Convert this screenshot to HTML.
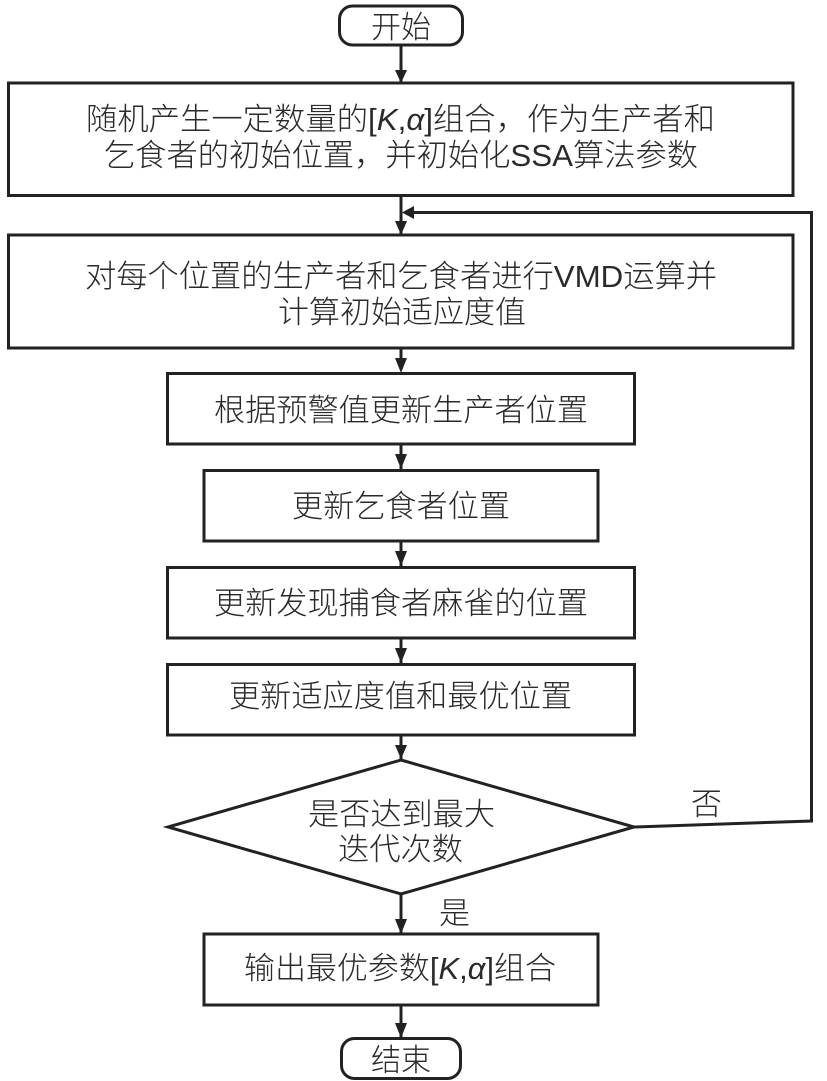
<!DOCTYPE html>
<html lang="zh">
<head>
<meta charset="utf-8">
<title>流程图</title>
<style>
html,body{margin:0;padding:0;background:#fff;}
svg{display:block;}
text{font-family:"Liberation Sans","Noto Sans CJK SC",sans-serif;font-size:31px;font-weight:300;fill:#2a2a2a;}
.i{font-style:italic;}
rect,polygon.b{fill:#fff;stroke:#222;stroke-width:3;}
.l{fill:none;stroke:#222;stroke-width:3;}
.a{fill:#222;stroke:none;}
</style>
</head>
<body>
<svg width="827" height="1081" viewBox="0 0 827 1081" xmlns="http://www.w3.org/2000/svg">
<path class="l" d="M401 45V125"/>
<path class="l" d="M401 196V368"/>
<path class="l" d="M401 444V470M401 541V567M401 638V664M401 735V760M401 894V934M401 1005V1040"/>
<path class="l" d="M634 827L811.500 821V212.500H410"/>
<polygon class="a" points="395,70 407,70 401,83"/>
<polygon class="a" points="395,358 407,358 401,373"/>
<polygon class="a" points="395,221 407,221 401,235"/>
<polygon class="a" points="414,206 414,219 402,212.500"/>
<polygon class="a" points="395,454 407,454 401,469"/>
<polygon class="a" points="395,551 407,551 401,566"/>
<polygon class="a" points="395,648 407,648 401,663"/>
<polygon class="a" points="395,745 407,745 401,759"/>
<polygon class="a" points="395,919 407,919 401,934"/>
<polygon class="a" points="395,1023 407,1023 401,1038"/>
<rect x="339.500" y="6" width="123" height="39" rx="13"/>
<rect x="8.500" y="83" width="784.500" height="112.500"/>
<rect x="8.500" y="235" width="784.500" height="113"/>
<rect x="167.500" y="373.500" width="467" height="70.500"/>
<rect x="204" y="470.500" width="394" height="70.500"/>
<rect x="167.500" y="567.500" width="467" height="70.500"/>
<rect x="167.500" y="664.500" width="467" height="70.500"/>
<polygon class="b" points="401,760 634,827 401,894 168,827" style="stroke-linejoin:miter"/>
<rect x="204" y="934" width="394" height="71"/>
<rect x="341.500" y="1038.500" width="119" height="40" rx="13"/>
<text x="371" y="38" textLength="60" lengthAdjust="spacingAndGlyphs">开始</text>
<text x="86" y="130" textLength="629" lengthAdjust="spacingAndGlyphs">随机产生一定数量的[<tspan class="i">K</tspan>,<tspan class="i">α</tspan>]组合，作为生产者和</text>
<text x="104" y="166" textLength="594" lengthAdjust="spacingAndGlyphs">乞食者的初始位置，并初始化SSA算法参数</text>
<text x="85" y="287" textLength="632" lengthAdjust="spacingAndGlyphs">对每个位置的生产者和乞食者进行VMD运算并</text>
<text x="278" y="323" textLength="248" lengthAdjust="spacingAndGlyphs">计算初始适应度值</text>
<text x="214" y="421" textLength="374" lengthAdjust="spacingAndGlyphs">根据预警值更新生产者位置</text>
<text x="292" y="517" textLength="218" lengthAdjust="spacingAndGlyphs">更新乞食者位置</text>
<text x="214" y="614" textLength="374" lengthAdjust="spacingAndGlyphs">更新发现捕食者麻雀的位置</text>
<text x="229" y="707" textLength="343" lengthAdjust="spacingAndGlyphs">更新适应度值和最优位置</text>
<text x="308" y="825" textLength="187" lengthAdjust="spacingAndGlyphs">是否达到最大</text>
<text x="338" y="860" textLength="125" lengthAdjust="spacingAndGlyphs">迭代次数</text>
<text x="691" y="815" textLength="31" lengthAdjust="spacingAndGlyphs">否</text>
<text x="439" y="924" textLength="31" lengthAdjust="spacingAndGlyphs">是</text>
<text x="244" y="979" textLength="312" lengthAdjust="spacingAndGlyphs">输出最优参数[<tspan class="i">K</tspan>,<tspan class="i">α</tspan>]组合</text>
<text x="371" y="1071" textLength="60" lengthAdjust="spacingAndGlyphs">结束</text>
</svg>
</body>
</html>
